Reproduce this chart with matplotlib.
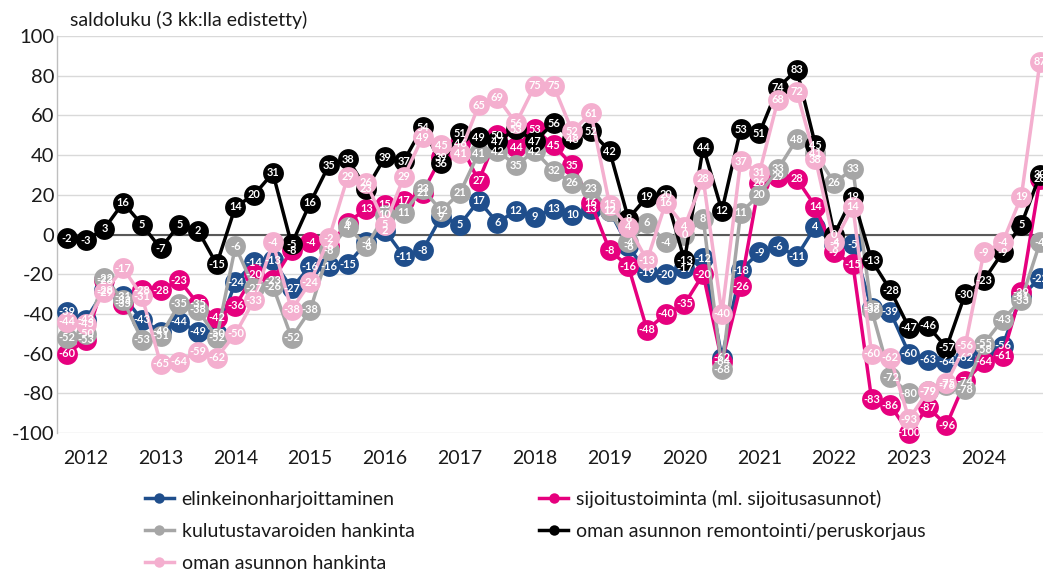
import matplotlib
matplotlib.use("Agg")
import matplotlib.pyplot as plt
from matplotlib.lines import Line2D

plt.rcParams['font.family'] = ['Lato', 'DejaVu Sans']
plt.rcParams['axes.unicode_minus'] = False

years = [str(y) for y in range(2012, 2025)]

elinkeino = [-39, -43, -28, -31, -43, -49, -44, -49, -50, -24, -14, -13, -27, -16, -16, -15,
             -4, 2, -11, -8, 9, 5, 17, 6, 12, 9, 13, 10, 13, 12, -6, -19,
             -20, -17, -12, -62, -18, -9, -6, -11, 4, -5, -5, -37, -39, -60, -63, -64,
             -62, -58, -56, -31, -22]
sijoitus = [-60, -53, -23, -35, -28, -28, -23, -35, -42, -36, -20, -23, -8, -4, -6, 6,
            13, 15, 17, 21, 39, 46, 27, 50, 44, 53, 45, 35, 16, -8, -16, -48,
            -40, -35, -20, -64, -26, 26, 29, 28, 14, -9, -15, -83, -86, -100, -87, -96,
            -74, -64, -61, -29, 28]
kulutus = [-52, -50, -22, -33, -53, -51, -35, -38, -52, -6, -27, -26, -52, -38, -8, 4,
           -6, 10, 11, 23, 12, 21, 41, 42, 35, 42, 32, 26, 23, 12, -4, 6,
           -4, 0, 8, -68, 11, 20, 33, 48, 41, 26, 33, -38, -72, -80, -79, -76,
           -78, -55, -43, -33, -4]
remontti = [-2, -3, 3, 16, 5, -7, 5, 2, -15, 14, 20, 31, -5, 16, 35, 38,
            23, 39, 37, 54, 36, 51, 49, 47, 53, 47, 56, 48, 52, 42, 8, 19,
            20, -13, 44, 12, 53, 51, 74, 83, 45, 0, 19, -13, -28, -47, -46, -57,
            -30, -23, -9, 5, 30]
asunto = [-44, -45, -29, -17, -31, -65, -64, -59, -62, -50, -33, -4, -38, -24, -2, 29,
          26, 5, 29, 49, 45, 41, 65, 69, 56, 75, 75, 52, 61, 15, 4, -13,
          16, 4, 28, -40, 37, 31, 68, 72, 38, -4, 14, -60, -62, -93, -79, -75,
          -56, -9, -4, 19, 87]

series = [
    ("elinkeinonharjoittaminen", elinkeino, "#1F4E8C"),
    ("sijoitustoiminta (ml. sijoitusasunnot)", sijoitus, "#E6007E"),
    ("kulutustavaroiden hankinta", kulutus, "#A6A6A6"),
    ("oman asunnon remontointi/peruskorjaus", remontti, "#000000"),
    ("oman asunnon hankinta", asunto, "#F4AFCF"),
]

W, H = 1043, 574
fig = plt.figure(figsize=(W / 100, H / 100), dpi=100)
ax = fig.add_axes([57 / W, (H - 433) / H, (W - 57) / W, (433 - 36) / H])

handles = {}
for k, (name, vals, col) in enumerate(series):
    x = list(range(len(vals)))
    ax.plot(x, vals, color=col, lw=2.5, marker='o', markersize=15,
            markeredgewidth=0, zorder=3 + k, clip_on=False)
    handles[name] = Line2D([], [], color=col, lw=2.5, marker='o', markersize=7.5,
                           markeredgewidth=0)
    for i, v in enumerate(vals):
        ax.text(i, v, str(v), color='white', fontsize=7.9, fontweight='bold',
                ha='center', va='center', zorder=20, clip_on=False)

n = len(elinkeino)
ax.set_xlim(-0.535, n - 1 + 0.16)
ax.set_ylim(-100, 100)
ax.set_yticks(range(-100, 101, 20))
ax.set_xticks([4 * k + 1 for k in range(len(years))])
ax.set_xticklabels(years)
ax.tick_params(axis='x', length=0, pad=12, labelsize=14, colors='#1a1a1a')
ax.tick_params(axis='y', length=0, pad=2, labelsize=14.5, colors='#1a1a1a')
ax.grid(axis='y', color='#D9D9D9', lw=1, zorder=0)
ax.axhline(0, color='#595959', lw=1.5, zorder=1)
for s in ['top', 'right', 'bottom']:
    ax.spines[s].set_visible(False)
ax.spines['left'].set_color('#BFBFBF')
ax.spines['left'].set_linewidth(1)
ax.set_axisbelow(True)

fig.text(70 / W, 1 - 20 / H, "saldoluku (3 kk:lla edistetty)", fontsize=14,
         color='#1a1a1a', va='center', ha='left')

order = ["elinkeinonharjoittaminen", "kulutustavaroiden hankinta", "oman asunnon hankinta",
         "sijoitustoiminta (ml. sijoitusasunnot)", "oman asunnon remontointi/peruskorjaus"]
leg = fig.legend([handles[o] for o in order], order, loc='upper left',
                 bbox_to_anchor=(137 / W, 1 - 482 / H), ncol=2, frameon=False,
                 fontsize=14, handlelength=1.5, handletextpad=0.4,
                 columnspacing=6.4, labelspacing=0.78, borderaxespad=0)
for t in leg.get_texts():
    t.set_color('#1a1a1a')

fig.savefig("out.png", dpi=100)
